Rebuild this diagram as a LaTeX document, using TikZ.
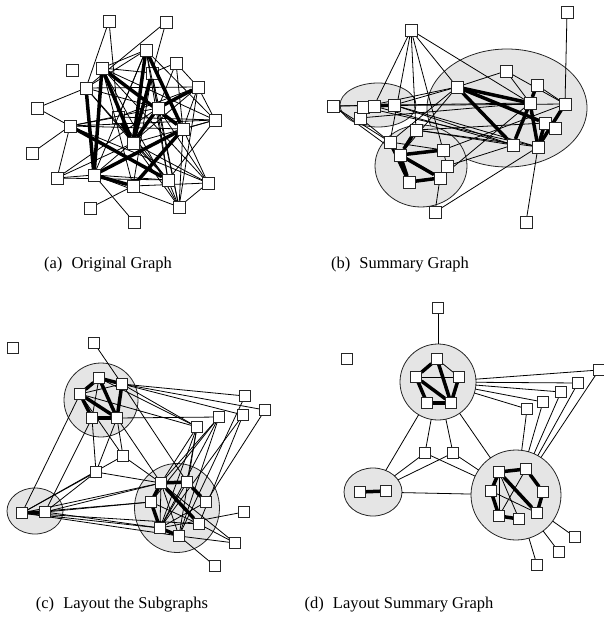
\documentclass[tikz,border=0pt]{standalone}
\usepackage{fontspec}
\setmainfont{Liberation Serif}
\usetikzlibrary{shapes.geometric}
\pgfdeclarelayer{grp}
\pgfdeclarelayer{under}
\pgfdeclarelayer{edges}
\pgfsetlayers{grp,under,edges,main}
\tikzset{
  vtx/.style={draw=black!85, fill=white, line width=0.8pt, minimum size=12pt, inner sep=0pt, outer sep=0pt},
  svtx/.style={vtx, minimum size=11pt},
  grp/.style={ellipse, draw=black!85, fill=black!10, line width=0.8pt, inner sep=0pt, outer sep=0pt},
  e/.style={line width=0.8pt},
  te/.style={line width=3.5pt},
  captext/.style={font=\fontsize{16.5}{19}\selectfont, inner sep=0pt}
}
\begin{document}
\begin{tikzpicture}[x=1pt,y=-1pt]
\useasboundingbox (0,0) rectangle (603,620);

% ---------------- (a) original graph ----------------
\begin{pgfonlayer}{under}
\node[vtx] (a11) at (118,117) {};
\node[vtx] (a13) at (152,73) {};
\end{pgfonlayer}
\foreach \n/\x/\y in {a1/146/50, a2/109/21, a3/166/22, a4/72/70, a5/102/68, a6/176/63,
  a7/86/88, a8/198/87, a9/37/108, a10/70/126, a12/158/108, a14/215/120,
  a15/183/129, a16/133/143, a17/32/153, a18/57/178, a19/94/175, a20/133/186,
  a21/168/180, a22/208/183, a23/90/208, a24/179/207, a25/134/222}
  \node[vtx] (\n) at (\x,\y) {};
\begin{pgfonlayer}{edges}
\foreach \u/\v in {a2/a7, a2/a11, a3/a7, a3/a13, a1/a5, a1/a7, a1/a12, a1/a14, a1/a11,
  a1/a21, a1/a19, a5/a13, a5/a14, a5/a22, a5/a20, a5/a24, a6/a13, a6/a12, a6/a15,
  a7/a9, a7/a8, a7/a12, a7/a16, a7/a21, a8/a14, a8/a15, a8/a11, a8/a19, a8/a24,
  a9/a10, a10/a17, a10/a18, a10/a11, a10/a14, a10/a15, a10/a22, a10/a12,
  a11/a14, a11/a21, a12/a22, a12/a18, a13/a24, a13/a21, a14/a15, a14/a21,
  a14/a16, a15/a22, a15/a24, a16/a24, a16/a18, a16/a22, a18/a21, a18/a19, a19/a21,
  a19/a24, a20/a23, a20/a22, a19/a25, a21/a24, a22/a24, a13/a20, a12/a24, a6/a8,
  a16/a21}
  \draw[e] (\u) -- (\v);
\foreach \u/\v in {a7/a19, a5/a19, a5/a16, a5/a15, a1/a16, a1/a15, a8/a12,
  a10/a21, a19/a15, a19/a20, a16/a13, a12/a16, a11/a16, a20/a15}
  \draw[te] (\u) -- (\v);
\end{pgfonlayer}
\node[captext] (capa) at (108,265) {(a)\hskip0.55em Original Graph};

% ---------------- (b) summary graph ----------------
\begin{pgfonlayer}{grp}
\node[grp, minimum width=160pt, minimum height=118pt] (bbig) at (507,108) {};
\node[grp, minimum width=92pt, minimum height=82pt] (bbot) at (421,166) {};
\node[grp, minimum width=76pt, minimum height=44pt] (bleft) at (378,105) {};
\end{pgfonlayer}
\foreach \n/\x/\y in {b1/411/30, b2/567/12, b3/506/71, b4/457/87, b5/537/85, b6/565/104,
  b7/333/106, b10/360/118, b8/363/107, b9/374/106, b11/394/105, b12/530/103,
  b13/545/123, b14/555/128, b15/416/130, b16/390/142, b17/400/155, b18/443/150,
  b19/447/166, b20/513/145, b21/538/147, b22/409/182, b23/440/178, b24/435/212,
  b25/526/222}
  \node[vtx] (\n) at (\x,\y) {};
\begin{pgfonlayer}{edges}
\foreach \u/\v in {b1/b9, b1/b16, b1/b15, b1/b18, b1/b4, b1/b12, b2/b6, b3/b4, b3/b12,
  b3/b6, b5/b6, b7/b6, b7/b11, b7/b17, b7/b16, b4/b11, b4/b8, b4/b16, b4/b17,
  b15/b20, b15/b21, b11/b21, b11/b20, b8/b21, b9/b20, b11/b12, b16/b18, b18/b19,
  b19/b20, b23/b12, b24/b23, b24/b21, b25/b21, b10/b16, b10/b12, b15/b13, b18/b6}
  \draw[e] (\u) -- (\v);
\foreach \u/\v in {b4/b12, b4/b13, b4/b20, b12/b20, b6/b21, b13/b21, b9/b11, b8/b9,
  b16/b22, b17/b22, b22/b23, b17/b23, b15/b17, b17/b18, b5/b12, b12/b21}
  \draw[te] (\u) -- (\v);
\end{pgfonlayer}
\node[captext] (capb) at (400,265) {(b)\hskip0.55em Summary Graph};

% ---------------- (c) layout of the subgraphs ----------------
\begin{pgfonlayer}{grp}
\node[grp, minimum width=74pt, minimum height=74pt] (ctop) at (101,400) {};
\node[grp, minimum width=56pt, minimum height=46pt] (cleft) at (35,511) {};
\node[grp, minimum width=85pt, minimum height=89pt] (cbr) at (177,508) {};
\end{pgfonlayer}
\foreach \n/\x/\y in {c1/13/348, c2/94/343, c3/99/378, c4/122/384, c5/80/394, c6/92/418,
  c7/117/418, c8/245/396, c9/265/410, c10/219/417, c11/243/415, c12/197/427,
  c13/123/456, c14/96/472, c15/22/513, c16/45/512, c17/161/483, c18/187/482,
  c19/151/502, c20/206/502, c21/160/528, c22/199/524, c23/179/536, c24/244/512,
  c25/235/543, c26/215/566}
  \node[svtx] (\n) at (\x,\y) {};
\begin{pgfonlayer}{edges}
\foreach \u/\v in {c3/c6, c4/c5, c2/c4, c4/c18, c4/c8, c4/c9, c4/c11, c4/c12, c3/c12,
  c5/c12, c7/c10, c5/c15, c6/c16, c6/c14, c7/c14, c7/c13, c5/c13, c7/c17, c14/c15,
  c14/c16, c14/c17, c13/c17, c13/c15, c15/c17, c15/c19, c15/c21, c15/c22, c15/c23,
  c16/c17, c16/c19, c12/c17, c12/c21, c12/c23, c12/c18, c10/c21, c10/c23, c10/c17,
  c10/c19, c11/c21, c11/c22, c9/c20, c8/c23, c17/c21, c17/c23, c18/c21, c19/c22,
  c20/c21, c21/c24, c23/c25, c17/c25, c23/c26, c22/c25, c16/c21}
  \draw[e] (\u) -- (\v);
\foreach \u/\v in {c3/c4, c3/c5, c5/c6, c5/c7, c3/c7, c4/c7, c6/c7,
  c17/c18, c17/c19, c19/c21, c17/c22, c18/c20, c21/c23, c15/c16}
  \draw[te] (\u) -- (\v);
\end{pgfonlayer}
\node[captext] (capc) at (122,605) {(c)\hskip0.55em Layout the Subgraphs};

% ---------------- (d) layout of the summary graph ----------------
\begin{pgfonlayer}{grp}
\node[grp, minimum width=76pt, minimum height=76pt] (dtop) at (438,382) {};
\node[grp, minimum width=58pt, minimum height=48pt] (dleft) at (373,492) {};
\node[grp, minimum width=90pt, minimum height=90pt] (dbr) at (516,495) {};
\end{pgfonlayer}
\foreach \n/\x/\y in {d1/438/308, d2/347/359, d3/437/359, d4/416/377, d5/459/377,
  d6/427/403, d7/451/403, d8/599/370, d9/578/383, d10/561/392, d11/543/402,
  d12/527/409, d13/425/453, d14/453/453, d15/360/492, d16/386/491, d17/499/472,
  d18/526/469, d19/491/491, d20/543/492, d21/499/516, d22/519/519, d23/537/513,
  d24/575/537, d25/559/552, d26/537/565}
  \node[svtx] (\n) at (\x,\y) {};
\begin{pgfonlayer}{edges}
\foreach \u/\v in {d1/dtop, d8/dtop, d9/dtop, d10/dtop, d11/dtop, d12/dtop,
  d8/dbr, d9/dbr, d10/dbr, d11/dbr, d12/dbr, d13/dtop, d14/dtop, dtop/dleft, dtop/dbr,
  d13/dleft, d13/dbr, d14/dleft, d14/dbr, dleft/dbr, d24/dbr, d25/dbr, d26/dbr,
  d3/d5, d4/d5, d17/d21, d17/d22, d18/d21, d19/d23}
  \draw[e] (\u) -- (\v);
\foreach \u/\v in {d3/d4, d4/d6, d6/d7, d3/d7, d4/d7, d5/d7, d15/d16,
  d17/d18, d17/d19, d19/d21, d21/d22, d17/d23, d18/d20, d20/d23}
  \draw[te] (\u) -- (\v);
\end{pgfonlayer}
\node[captext] (capd) at (399,605) {(d)\hskip0.55em Layout Summary Graph};
\end{tikzpicture}
\end{document}
